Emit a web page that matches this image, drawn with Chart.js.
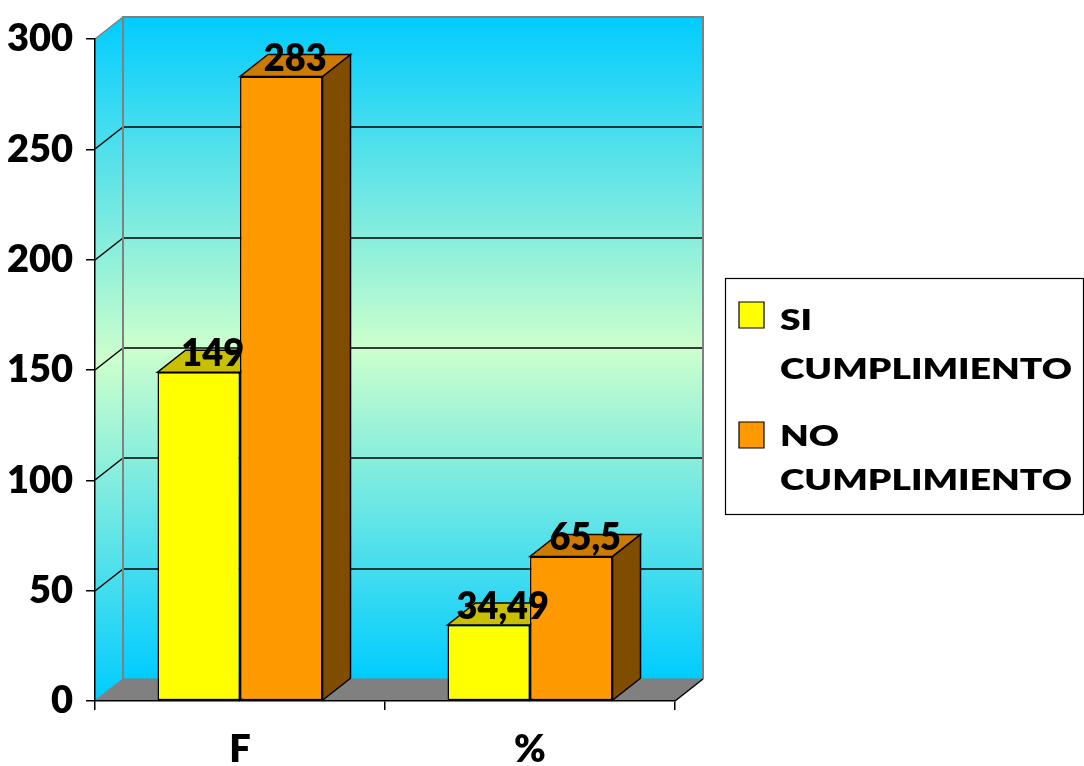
<!DOCTYPE html>
<html><head><meta charset="utf-8">
<script src="https://cdn.jsdelivr.net/npm/chart.js@4.4.0/dist/chart.umd.min.js"></script>
<style>html,body{margin:0;padding:0;background:#fff;}#wrap{width:1084px;height:766px;}</style>
</head><body><div id="wrap"><canvas id="c" width="1084" height="766"></canvas></div>
<script>
const categories = ['F', '%'];
const seriesNames = ['SI CUMPLIMIENTO', 'NO CUMPLIMIENTO'];
const siCumplimiento = [149, 34.49];
const noCumplimiento = [283, 65.5];
const yTickValues = [0, 50, 100, 150, 200, 250, 300];

const FONT = "Lato, 'Open Sans', sans-serif";
const WEIGHT = '800';
const DX = 28, DY = 22;
const FRONT = ['#FFFF00', '#FF9900'];
const TOP = ['#C8C000', '#CC7A00'];
const SIDE = ['#808000', '#7F4C00'];

function fmt(v) { return String(v).replace('.', ','); }

function poly(ctx, pts, fill, stroke, lw) {
  ctx.beginPath();
  ctx.moveTo(pts[0][0], pts[0][1]);
  for (let i = 1; i < pts.length; i++) ctx.lineTo(pts[i][0], pts[i][1]);
  ctx.closePath();
  if (fill) { ctx.fillStyle = fill; ctx.fill(); }
  if (stroke) { ctx.strokeStyle = stroke; ctx.lineWidth = lw || 1; ctx.stroke(); }
}

const wallPlugin = {
  id: 'walls',
  beforeDraw(chart) {
    const ctx = chart.ctx, a = chart.chartArea, ys = chart.scales.y;
    const L = a.left, R = a.right, T = a.top, B = a.bottom;
    ctx.save();
    const g = ctx.createLinearGradient(0, T - DY, 0, B - DY);
    g.addColorStop(0, '#00CCFF');
    g.addColorStop(0.5, '#CCFFCC');
    g.addColorStop(1, '#00CCFF');
    poly(ctx, [[L + DX, T - DY], [R + DX, T - DY], [R + DX, B - DY], [L + DX, B - DY]], g, null);
    const g2 = ctx.createLinearGradient(0, T - DY, 0, B);
    g2.addColorStop(0, '#00CCFF');
    g2.addColorStop(0.5, '#CCFFCC');
    g2.addColorStop(1, '#00CCFF');
    poly(ctx, [[L, T], [L + DX, T - DY], [L + DX, B - DY], [L, B]], g2, null);
    poly(ctx, [[L, B], [R, B], [R + DX, B - DY], [L + DX, B - DY]], '#808080', null);
    ctx.lineWidth = 1.5;
    yTickValues.forEach(v => {
      const py = Math.round(ys.getPixelForValue(v));
      if (v > 0 && v < 300) {
        ctx.strokeStyle = '#000';
        ctx.beginPath();
        ctx.moveTo(L + DX, py - DY); ctx.lineTo(R + DX, py - DY);
        ctx.stroke();
      }
      ctx.strokeStyle = (v === 300 || v === 0) ? '#808080' : '#000';
      ctx.beginPath();
      ctx.moveTo(L, py); ctx.lineTo(L + DX, py - DY);
      ctx.stroke();
    });
    ctx.strokeStyle = '#808080';
    ctx.lineWidth = 2;
    ctx.beginPath();
    ctx.moveTo(L + DX, B - DY); ctx.lineTo(L + DX, T - DY); ctx.lineTo(R + DX, T - DY); ctx.lineTo(R + DX, B - DY);
    ctx.stroke();
    ctx.lineWidth = 1.2;
    ctx.beginPath();
    ctx.moveTo(L + DX, B - DY); ctx.lineTo(R + DX, B - DY);
    ctx.stroke();
    ctx.strokeStyle = '#000';
    ctx.lineWidth = 1.5;
    ctx.beginPath();
    ctx.moveTo(R, B); ctx.lineTo(R + DX, B - DY);
    ctx.stroke();
    ctx.restore();
  },
  beforeDatasetsDraw(chart) {
    const ctx = chart.ctx;
    ctx.save();
    chart.data.datasets.forEach((ds, i) => {
      const meta = chart.getDatasetMeta(i);
      meta.data.forEach(el => {
        const p = el.getProps(['x', 'y', 'base', 'width'], true);
        const l = p.x - p.width / 2, r = p.x + p.width / 2;
        poly(ctx, [[r, p.y], [r + DX, p.y - DY], [r + DX, p.base - DY], [r, p.base]], SIDE[i], '#000', 1.5);
        poly(ctx, [[l, p.y], [r, p.y], [r + DX, p.y - DY], [l + DX, p.y - DY]], TOP[i], '#000', 1.5);
      });
    });
    ctx.restore();
  },
  afterDatasetsDraw(chart) {
    const ctx = chart.ctx;
    ctx.save();
    ctx.fillStyle = '#000';
    ctx.font = WEIGHT + ' 38px ' + FONT;
    ctx.textAlign = 'center';
    ctx.textBaseline = 'alphabetic';
    chart.data.datasets.forEach((ds, i) => {
      const meta = chart.getDatasetMeta(i);
      meta.data.forEach((el, j) => {
        const p = el.getProps(['x', 'y'], true);
        const cx = p.x + DX / 2, by = p.y - 6;
        ctx.save();
        ctx.translate(cx, by);
        ctx.scale(0.95, 1);
        ctx.fillText(fmt(ds.data[j]), 0, 0);
        ctx.restore();
      });
    });
    ctx.restore();
  },
  afterDraw(chart) {
    const ctx = chart.ctx;
    ctx.save();
    ctx.fillStyle = '#fff';
    ctx.fillRect(725.5, 278.5, 358, 236);
    ctx.strokeStyle = '#000';
    ctx.lineWidth = 1.2;
    ctx.strokeRect(725.5, 278.5, 358, 236);
    ctx.font = WEIGHT + ' 29px ' + FONT;
    ctx.textAlign = 'left';
    ctx.textBaseline = 'middle';
    const sx = 292 / ctx.measureText('CUMPLIMIENTO').width;
    const rows = [[321, 370], [437, 481]];
    const sw = [315, 435];
    seriesNames.forEach((name, i) => {
      const parts = name.split(' ');
      poly(ctx, [[739, sw[i] - 13], [764, sw[i] - 13], [764, sw[i] + 13], [739, sw[i] + 13]], FRONT[i], '#000', 1.2);
      ctx.fillStyle = '#000';
      [parts[0], parts.slice(1).join(' ')].forEach((t, k) => {
        ctx.save();
        ctx.translate(780, rows[i][k]);
        ctx.scale(sx, 1);
        ctx.fillText(t, 0, 0);
        ctx.restore();
      });
    });
    ctx.restore();
  }
};

new Chart(document.getElementById('c'), {
  type: 'bar',
  data: {
    labels: categories,
    datasets: [
      { label: seriesNames[0], data: siCumplimiento, backgroundColor: FRONT[0], borderColor: '#000', borderWidth: 1.5, borderSkipped: false, categoryPercentage: 0.569, barPercentage: 1 },
      { label: seriesNames[1], data: noCumplimiento, backgroundColor: FRONT[1], borderColor: '#000', borderWidth: 1.5, borderSkipped: false, categoryPercentage: 0.569, barPercentage: 1 }
    ]
  },
  options: {
    responsive: false,
    animation: false,
    devicePixelRatio: 1,
    layout: { padding: { left: 0, right: 409, top: 39, bottom: 0 } },
    plugins: { legend: { display: false }, tooltip: { enabled: false } },
    scales: {
      x: {
        offset: true,
        ticks: { color: '#000', font: { family: FONT, weight: WEIGHT, size: 38 }, padding: 17 },
        grid: { drawOnChartArea: false, offset: true, color: '#000', tickLength: 9, lineWidth: 1.5 },
        border: { color: '#000', width: 1.5 },
        afterFit: s => { s.height = 65; }
      },
      y: {
        min: 0, max: 300,
        afterBuildTicks: s => { s.ticks = yTickValues.map(v => ({ value: v })); },
        ticks: { color: '#000', font: { family: FONT, weight: WEIGHT, size: 38 }, padding: 13 },
        grid: { drawOnChartArea: false, color: '#000', tickLength: 9, lineWidth: 1.5 },
        border: { color: '#000', width: 1.5 },
        afterFit: s => { s.width = 95; }
      }
    }
  },
  plugins: [wallPlugin]
});
</script>
</body></html>
